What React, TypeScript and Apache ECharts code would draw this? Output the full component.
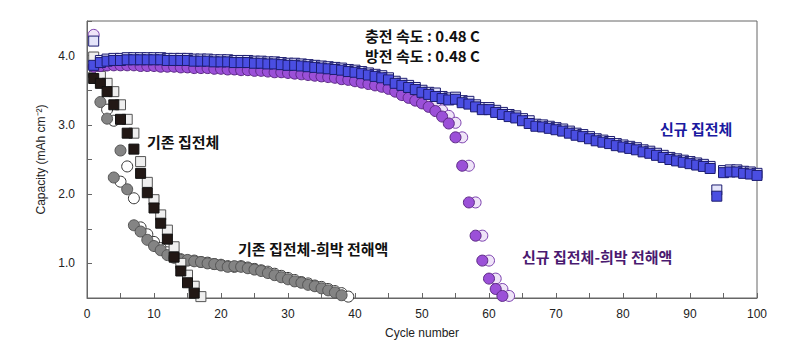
import React, { useEffect, useRef } from "react";
import * as echarts from "echarts";

// ---- Data ----
// 기존 집전체 : filled (black) squares and open squares
const oldFilled = [3.67, 3.60, 3.48, 3.29, 3.08, 2.88, 2.65, 2.30, 2.02, 1.80, 1.58, 1.35, 1.09, 0.89, 0.72, 0.57];
const oldOpen = [3.98, 3.70, 3.60, 3.48, 3.29, 3.08, 2.88, 2.47, 2.17, 1.92, 1.70, 1.48, 1.24, 1.00, 0.83, 0.67, 0.52];

// 기존 집전체-희박 전해액 : gray filled circles (cycles 1..38), open circles (cycles 2..39)
const oldLeanFilled = [3.72, 3.33, 3.09, 2.24, 2.63, 2.07, 1.55, 1.46, 1.34, 1.25, 1.19, 1.12, 1.08, 1.05, 1.05, 1.03, 1.02, 1.00, 0.99, 0.97,
  0.95, 0.96, 0.95, 0.93, 0.91, 0.89, 0.86, 0.83, 0.80, 0.77, 0.74, 0.72, 0.69, 0.67, 0.64, 0.61, 0.58, 0.54];
const oldLeanOpen = [3.62, 3.22, 3.06, 2.18, 2.40, 1.94, 1.52, 1.42, 1.31, 1.22, 1.16, 1.10, 1.06, 1.04, 1.04, 1.02, 1.01, 0.99, 0.98,
  0.96, 0.95, 0.96, 0.94, 0.92, 0.90, 0.88, 0.85, 0.82, 0.79, 0.76, 0.73, 0.71, 0.68, 0.66, 0.63, 0.60, 0.57, 0.52];

// 신규 집전체 : blue squares (cycles 1..100)
const newFilled = [3.86, 3.90, 3.92, 3.93, 3.93, 3.94, 3.94, 3.94, 3.94, 3.94,
  3.94, 3.93, 3.93, 3.93, 3.93, 3.92, 3.92, 3.92, 3.91, 3.91,
  3.91, 3.90, 3.90, 3.90, 3.89, 3.89, 3.88, 3.88, 3.87, 3.86,
  3.86, 3.85, 3.84, 3.83, 3.82, 3.81, 3.80, 3.79, 3.77, 3.76,
  3.74, 3.72, 3.70, 3.68, 3.65, 3.60, 3.57, 3.54, 3.51, 3.47,
  3.44, 3.41, 3.38, 3.36, 3.37, 3.32, 3.30, 3.26, 3.22, 3.22,
  3.18, 3.15, 3.12, 3.10, 3.06, 3.02, 2.98, 2.97, 2.95, 2.93,
  2.91, 2.88, 2.85, 2.83, 2.80, 2.77, 2.75, 2.73, 2.70, 2.68,
  2.66, 2.64, 2.61, 2.59, 2.56, 2.53, 2.50, 2.48, 2.46, 2.44,
  2.42, 2.40, 2.37, 1.97, 2.31, 2.32, 2.32, 2.30, 2.29, 2.27];
const newOpen = [4.21, 3.93, 3.95, 3.96, 3.96, 3.97, 3.97, 3.97, 3.97, 3.97,
  3.97, 3.96, 3.96, 3.96, 3.96, 3.95, 3.95, 3.95, 3.94, 3.94,
  3.94, 3.93, 3.93, 3.93, 3.92, 3.92, 3.91, 3.91, 3.90, 3.89,
  3.89, 3.88, 3.87, 3.86, 3.85, 3.84, 3.83, 3.82, 3.80, 3.79,
  3.77, 3.75, 3.73, 3.71, 3.68, 3.63, 3.60, 3.57, 3.54, 3.50,
  3.47, 3.46, 3.41, 3.39, 3.40, 3.35, 3.34, 3.29, 3.25, 3.25,
  3.21, 3.18, 3.15, 3.13, 3.09, 3.06, 3.01, 3.00, 2.98, 2.96,
  2.94, 2.91, 2.88, 2.86, 2.83, 2.80, 2.78, 2.76, 2.73, 2.71,
  2.69, 2.67, 2.64, 2.62, 2.59, 2.56, 2.53, 2.51, 2.49, 2.47,
  2.45, 2.43, 2.40, 2.06, 2.34, 2.35, 2.35, 2.33, 2.32, 2.30];

// 신규 집전체-희박 전해액 : purple filled circles (cycles 1..62), open circles (cycles 1..63)
const newLeanFilled = [3.84, 3.85, 3.86, 3.86, 3.86, 3.86, 3.86, 3.85, 3.85, 3.85,
  3.84, 3.84, 3.84, 3.83, 3.83, 3.82, 3.82, 3.82, 3.81, 3.81,
  3.80, 3.80, 3.79, 3.79, 3.78, 3.78, 3.77, 3.76, 3.76, 3.75,
  3.74, 3.73, 3.72, 3.71, 3.70, 3.69, 3.68, 3.66, 3.65, 3.63,
  3.61, 3.59, 3.57, 3.55, 3.52, 3.48, 3.43, 3.39, 3.35, 3.31,
  3.26, 3.20, 3.12, 3.02, 2.82, 2.41, 1.88, 1.40, 1.04, 0.78,
  0.63, 0.53];
const newLeanOpen = [4.30, 3.85, 3.86, 3.87, 3.87, 3.87, 3.87, 3.87, 3.86, 3.86,
  3.86, 3.85, 3.85, 3.85, 3.84, 3.84, 3.83, 3.83, 3.83, 3.82,
  3.82, 3.81, 3.81, 3.80, 3.80, 3.79, 3.79, 3.78, 3.77, 3.77,
  3.76, 3.75, 3.74, 3.73, 3.72, 3.71, 3.70, 3.69, 3.67, 3.66,
  3.64, 3.62, 3.60, 3.58, 3.56, 3.53, 3.49, 3.44, 3.40, 3.36,
  3.32, 3.27, 3.21, 3.13, 3.03, 2.82, 2.41, 1.88, 1.40, 1.04,
  0.78, 0.63, 0.53];

const xTicksLabelStep = 10;

const fromCycle = (vals: number[], start: number) => vals.map((v, i) => [start + i, v]);

export default function App() {
  const ref = useRef<HTMLDivElement>(null);
  useEffect(() => {
    if (!ref.current) return;
    const chart = echarts.init(ref.current, undefined, { renderer: "svg" });
    const font = "'Liberation Sans', Arial, sans-serif";
    const kfont = "'Noto Sans CJK KR', sans-serif";
    const scatter = (data: number[][], symbol: string, size: number, fill: string, border: string) => ({
      type: "scatter",
      data,
      symbol,
      symbolSize: size,
      itemStyle: { color: fill, borderColor: border, borderWidth: 1, opacity: 1 },
      emphasis: { disabled: true },
    });
    const txt = (x: number, y: number, text: string, color: string) => ({
      type: "text",
      left: x,
      top: y,
      style: { text, fill: color, font: `bold 15px ${kfont}` },
    });
    chart.setOption({
      animation: false,
      grid: { left: 87, right: 43, top: 21, bottom: 57, show: true, borderColor: "#666", borderWidth: 1 },
      xAxis: {
        type: "value",
        min: 0,
        max: 100,
        interval: 5,
        name: "Cycle number",
        nameLocation: "middle",
        nameGap: 29,
        nameTextStyle: { fontFamily: font, fontSize: 12, color: "#222" },
        axisLine: { lineStyle: { color: "#666" } },
        axisTick: { inside: true, length: 5, lineStyle: { color: "#666" } },
        axisLabel: {
          fontFamily: font,
          fontSize: 12,
          color: "#222",
          margin: 10,
          formatter: (v: number) => (v % xTicksLabelStep === 0 ? String(v) : ""),
        },
        splitLine: { show: false },
      },
      yAxis: {
        type: "value",
        min: 0.5,
        max: 4.5,
        interval: 0.5,
        name: "Capacity (mAh cm⁻²)",
        nameLocation: "middle",
        nameGap: 34,
        nameTextStyle: { fontFamily: font, fontSize: 12, color: "#222" },
        axisLine: { lineStyle: { color: "#666" } },
        axisTick: { inside: true, length: 5, lineStyle: { color: "#666" } },
        axisLabel: {
          fontFamily: font,
          fontSize: 12,
          color: "#222",
          margin: 12,
          formatter: (v: number) => (Math.abs(v - Math.round(v)) < 1e-6 && v >= 1 && v <= 4 ? v.toFixed(1) : ""),
        },
        splitLine: { show: false },
      },
      series: [
        scatter(fromCycle(oldLeanOpen, 2), "circle", 11, "#ffffff", "#333333"),
        scatter(fromCycle(oldLeanFilled, 1), "circle", 11, "#848484", "#555555"),
        scatter(fromCycle(oldOpen, 1), "rect", 10, "#efefef", "#555555"),
        scatter(fromCycle(oldFilled, 1), "rect", 10, "#221815", "#111111"),
        scatter(fromCycle(newLeanOpen, 1), "circle", 11, "#efe4f8", "#7b3fae"),
        scatter(fromCycle(newLeanFilled, 1), "circle", 11, "#9b50d8", "#5d2a86"),
        scatter(fromCycle(newOpen, 1), "rect", 10, "#e4e4fa", "#1c1c70"),
        scatter(fromCycle(newFilled, 1), "rect", 10, "#4a4ee2", "#1c1c70"),
      ],
      graphic: [
        txt(365, 28, "충전 속도 : 0.48 C", "#111"),
        txt(365, 48, "방전 속도 : 0.48 C", "#111"),
        txt(147, 134, "기존 집전체", "#111"),
        txt(238, 241, "기존 집전체-희박 전해액", "#111"),
        txt(522, 249, "신규 집전체-희박 전해액", "#4a1a70"),
        txt(660, 121, "신규 집전체", "#1a1aa0"),
      ],
    });
    return () => chart.dispose();
  }, []);
  return <div ref={ref} style={{ width: 800, height: 355, position: "absolute", left: 0, top: 0, background: "#fff" }} />;
}
